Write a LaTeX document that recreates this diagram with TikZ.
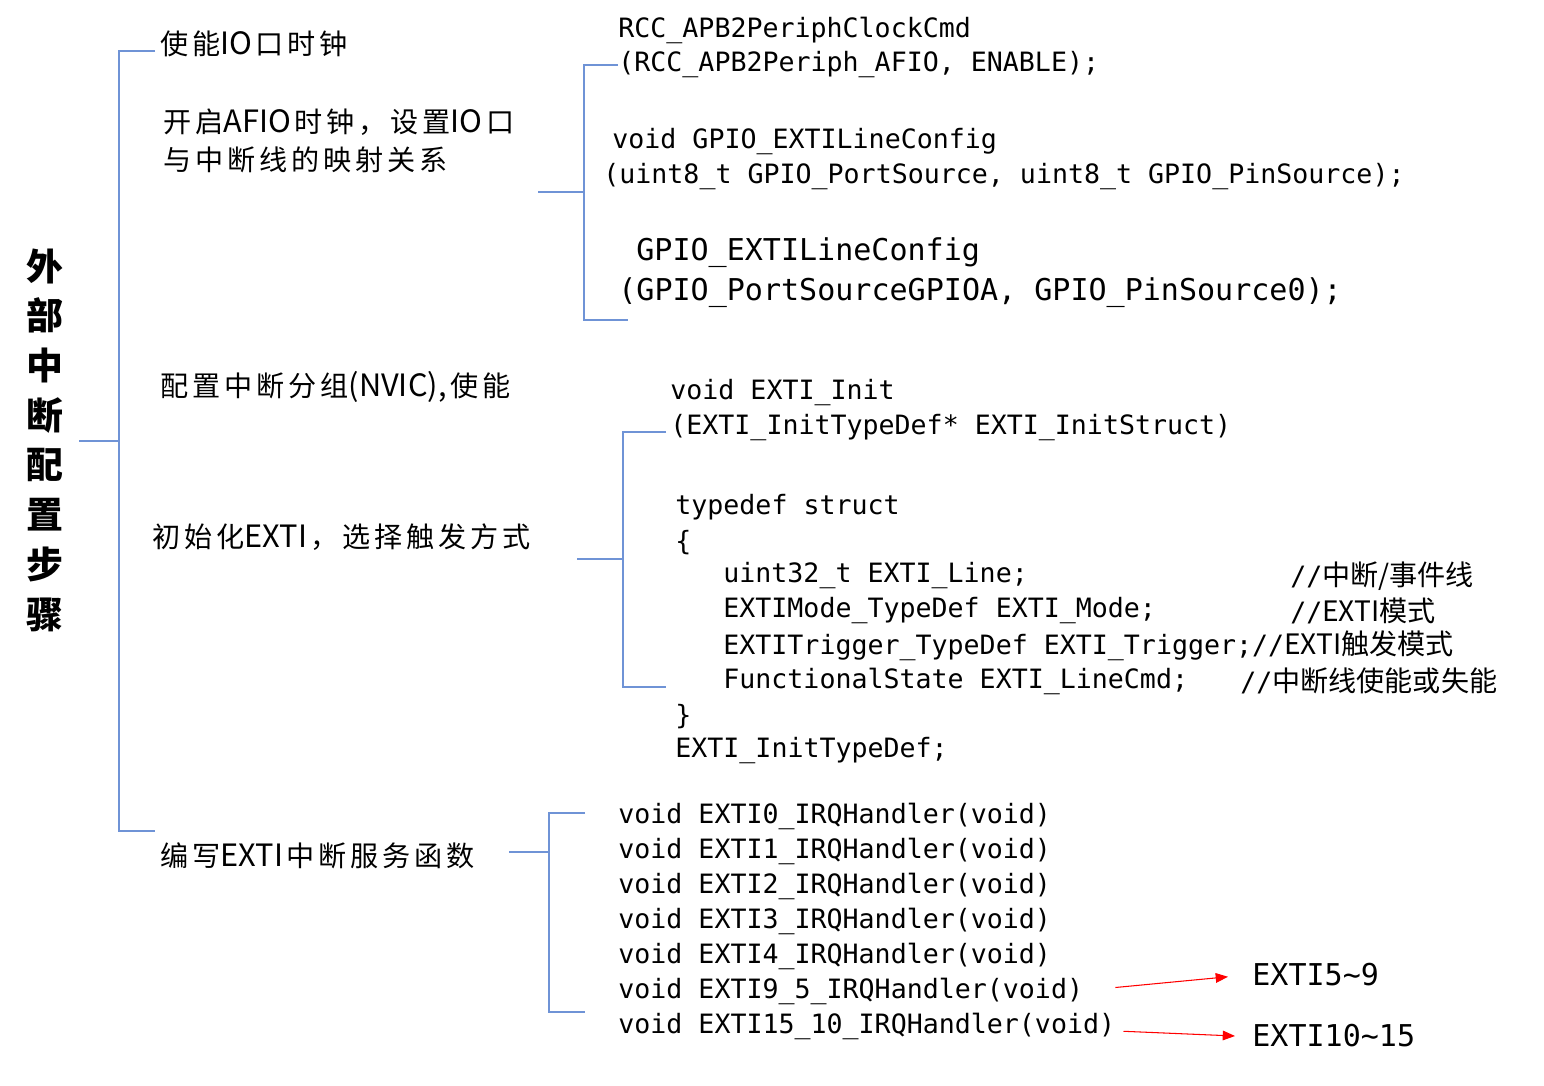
\documentclass[tikz,border=0pt]{standalone}
\usepackage{fontspec}
\setmonofont{DejaVu Sans Mono}
\newfontfamily\cjk{Noto Sans CJK SC}
\newfontfamily\cjkwide[LetterSpace=14]{Noto Sans CJK SC}
\usetikzlibrary{arrows.meta}

\definecolor{lineblue}{HTML}{6F93D6}

\tikzset{
    bline/.style={draw=lineblue, line width=0.9pt},
    steptext/.style={anchor=west, inner sep=0pt, font=\cjkwide\fontsize{16}{19}\selectfont},
    codetext/.style={anchor=west, inner sep=0pt, font=\ttfamily\fontsize{15.15}{18}\selectfont},
    bigcode/.style={anchor=west, inner sep=0pt, font=\ttfamily\fontsize{17.1}{20}\selectfont},
    redarrow/.style={draw=red, line width=0.6pt, -{Triangle[length=7pt,width=5.5pt]}}
}
\def\note#1{{\cjk\fontsize{16}{18}\selectfont #1}}
\def\latin#1{{\cjk\fontsize{17.5}{19}\selectfont #1}\hspace{2pt}}

\begin{document}
\begin{tikzpicture}[x=0.02cm, y=-0.02cm]
    \useasboundingbox (0,0) rectangle (1544,1085);

    % Title, one character per line
    \node[inner sep=0pt, align=center, font=\cjk\bfseries\fontsize{21}{28.3}\selectfont]
        (title) at (45,440) {外\\部\\中\\断\\配\\置\\步\\骤};

    % The steps
    \node[steptext] (s1) at (160,44) {使能\latin{IO}口时钟};
    \node[steptext] (s2) at (163,122) {开启\latin{AFIO}时钟，设置\latin{IO}口};
    \node[steptext] (s2b) at (163,160) {与中断线的映射关系};
    \node[steptext] (s3) at (160,387) {配置中断分组\latin{(NVIC),}使能};
    \node[steptext] (s4) at (152,537) {初始化\latin{EXTI}，选择触发方式};
    \node[steptext] (s5) at (160,856) {编写\latin{EXTI}中断服务函数};

    % Main bracket
    \coordinate (root) at (79,441);
    \coordinate (roottop) at (155,51);
    \coordinate (rootbot) at (155,831);
    \draw[bline] (root) -- (119,441);
    \draw[bline] (roottop) -- (119,51) -- (119,831) -- (rootbot);

    % Code for the AFIO step
    \node[codetext] (c1) at (618,30) {RCC\_APB2PeriphClockCmd};
    \node[codetext] (c2) at (618,65) {(RCC\_APB2Periph\_AFIO, ENABLE);};
    \node[codetext] (c3) at (612,142) {void GPIO\_EXTILineConfig};
    \node[codetext] (c4) at (603,177) {(uint8\_t GPIO\_PortSource, uint8\_t GPIO\_PinSource);};
    \node[bigcode] (c5) at (636,253) {GPIO\_EXTILineConfig};
    \node[bigcode] (c6) at (618,293) {(GPIO\_PortSourceGPIOA, GPIO\_PinSource0);};

    \coordinate (afio) at (538,192);
    \coordinate (afiotop) at (618,65);
    \coordinate (afiobot) at (628,320);
    \draw[bline] (afio) -- (584,192);
    \draw[bline] (afiotop) -- (584,65) -- (584,320) -- (afiobot);

    % Code for the EXTI init step
    \node[codetext] (e1) at (670,393) {void EXTI\_Init};
    \node[codetext] (e2) at (670,428) {(EXTI\_InitTypeDef* EXTI\_InitStruct)};
    \node[codetext] (e3) at (675,507) {typedef struct};
    \node[codetext] (e4) at (675,543) {\{};
    \node[codetext] (e5) at (723,576) {uint32\_t EXTI\_Line;};
    \node[codetext] (e6) at (723,611) {EXTIMode\_TypeDef EXTI\_Mode;};
    \node[codetext] (e7) at (723,646) {EXTITrigger\_TypeDef EXTI\_Trigger;//\note{EXTI触发模式}};
    \node[codetext] (e8) at (723,681) {FunctionalState EXTI\_LineCmd;};
    \node[codetext] (e9) at (675,717) {\}};
    \node[codetext] (e10) at (675,751) {EXTI\_InitTypeDef;};
    \node[codetext] (m5) at (1290,576) {//\note{中断/事件线}};
    \node[codetext] (m6) at (1290,611) {//\note{EXTI模式}};
    \node[codetext] (m8) at (1240,681) {//\note{中断线使能或失能}};

    \coordinate (init) at (577,559);
    \coordinate (inittop) at (666,432);
    \coordinate (initbot) at (666,687);
    \draw[bline] (init) -- (623,559);
    \draw[bline] (inittop) -- (623,432) -- (623,687) -- (initbot);

    % The handlers
    \foreach \h [count=\i] in {0,1,2,3,4,9\_5,15\_10} {
        \node[codetext] (h\i) at (618,{781+35*\i}) {void EXTI\h\_IRQHandler(void)};
    }

    \coordinate (irq) at (509,852);
    \coordinate (irqtop) at (585,813);
    \coordinate (irqbot) at (585,1012);
    \draw[bline] (irq) -- (549,852);
    \draw[bline] (irqtop) -- (549,813) -- (549,1012) -- (irqbot);

    % Shared lines
    \node[bigcode] (r1) at (1252,975) {EXTI5\textasciitilde9};
    \node[bigcode] (r2) at (1252,1036) {EXTI10\textasciitilde15};
    \draw[redarrow] ([xshift=32*0.02cm, yshift=2pt]h6.east) -- ([xshift=-24*0.02cm, yshift=-1pt]r1.west);
    \draw[redarrow] ([xshift=8*0.02cm, yshift=-3pt]h7.east) -- ([xshift=-17*0.02cm, yshift=-0pt]r2.west);
\end{tikzpicture}
\end{document}
